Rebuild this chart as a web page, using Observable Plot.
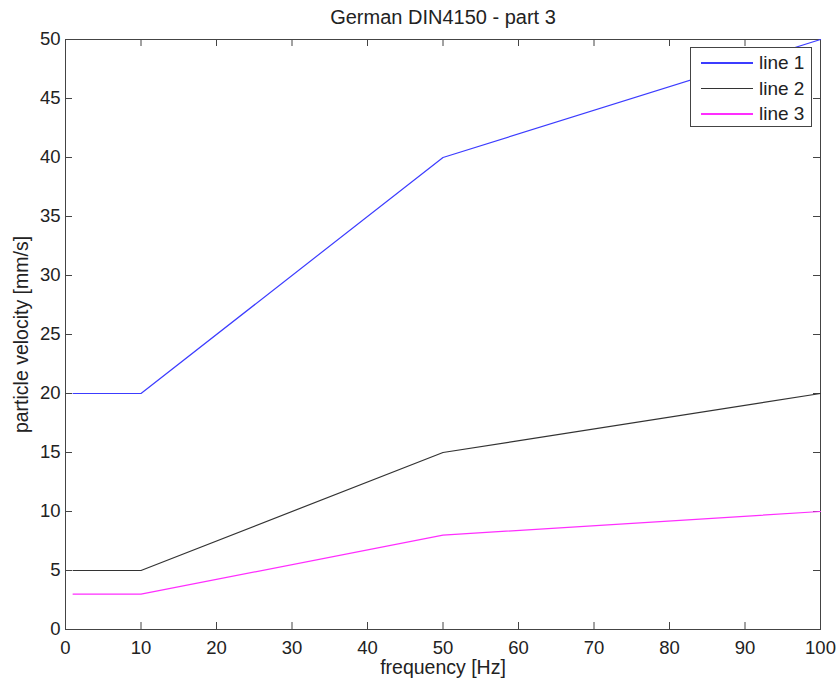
<!DOCTYPE html>
<html>
<head>
<meta charset="utf-8">
<script src="https://cdn.jsdelivr.net/npm/d3@7"></script>
<script src="https://cdn.jsdelivr.net/npm/@observablehq/plot@0.6"></script>
<style>
  body { margin: 0; background: #fff; }
  #wrap { position: relative; width: 837px; height: 681px; font-family: "Liberation Sans", Arial, sans-serif; }
  #legend { position: absolute; left: 690px; top: 47px; width: 122px; height: 80px; background: #fff; border: 1px solid #444; box-sizing: border-box; }
  .row { position: absolute; left: 0; height: 24px; display: flex; align-items: center; font-size: 19px; color: #222; }
  .row .sw { width: 52px; height: 1.3px; margin-left: 10px; margin-right: 6px; }
</style>
</head>
<body>
<div id="wrap"></div>
<script>
const frequency = [1, 10, 50, 100];
const line1 = [20, 20, 40, 50];
const line2 = [5, 5, 15, 20];
const line3 = [3, 3, 8, 10];
const seriesNames = ["line 1", "line 2", "line 3"];
const seriesColors = ["#3c3cff", "#333333", "#ff2eff"];
const xTicks = [0, 10, 20, 30, 40, 50, 60, 70, 80, 90, 100];
const yTicks = [0, 5, 10, 15, 20, 25, 30, 35, 40, 45, 50];
const title = "German DIN4150 - part 3";
const xLabel = "frequency [Hz]";
const yLabel = "particle velocity [mm/s]";

const seriesValues = [line1, line2, line3];
const data = seriesValues.flatMap((vals, i) =>
  vals.map((v, j) => ({series: seriesNames[i], x: frequency[j], y: v})));

const W = 837, H = 681;
const mt = 39, mb = 52, ml = 65, mr = 17;
const innerH = H - mt - mb, innerW = W - ml - mr;
const tl = 7;

const chart = Plot.plot({
  width: W, height: H,
  marginTop: mt, marginBottom: mb, marginLeft: ml, marginRight: mr,
  style: {fontFamily: "'Liberation Sans', Arial, sans-serif", fontSize: "18px", color: "#222", background: "#fff"},
  x: {domain: [0, 100], label: null},
  y: {domain: [0, 50], label: null},
  color: {domain: seriesNames, range: seriesColors},
  marks: [
    Plot.frame({stroke: "#444"}),
    Plot.tickX(xTicks, {x: d => d, stroke: "#444", insetTop: innerH - tl}),
    Plot.tickX(xTicks, {x: d => d, stroke: "#444", insetBottom: innerH - tl}),
    Plot.tickY(yTicks, {y: d => d, stroke: "#444", insetRight: innerW - tl}),
    Plot.tickY(yTicks, {y: d => d, stroke: "#444", insetLeft: innerW - tl}),
    Plot.axisX({ticks: xTicks, tickSize: 0, tickPadding: 11, fontSize: 18.5, fill: "#222", label: null}),
    Plot.axisY({ticks: yTicks, tickSize: 0, tickPadding: 5, fontSize: 18.5, fill: "#222", label: null}),
    Plot.line(data, {x: "x", y: "y", z: "series", stroke: "series", strokeWidth: 1.2}),
    Plot.text([title], {frameAnchor: "top", lineAnchor: "middle", dy: -22, fontSize: 20, fill: "#222", text: d => d}),
    Plot.text([xLabel], {frameAnchor: "bottom", lineAnchor: "middle", dy: 38, fontSize: 19.5, fill: "#222", text: d => d}),
    Plot.text([yLabel], {frameAnchor: "left", textAnchor: "middle", lineAnchor: "middle", dx: -44, rotate: -90, fontSize: 19.5, fill: "#222", text: d => d})
  ]
});
const wrap = document.getElementById("wrap");
wrap.appendChild(chart);

const legend = document.createElement("div");
legend.id = "legend";
seriesNames.forEach((name, i) => {
  const row = document.createElement("div");
  row.className = "row";
  row.style.top = (3 + i * 25.5) + "px";
  const sw = document.createElement("span");
  sw.className = "sw";
  sw.style.background = seriesColors[i];
  const t = document.createElement("span");
  t.textContent = name;
  row.appendChild(sw); row.appendChild(t);
  legend.appendChild(row);
});
wrap.appendChild(legend);
</script>
</body>
</html>
